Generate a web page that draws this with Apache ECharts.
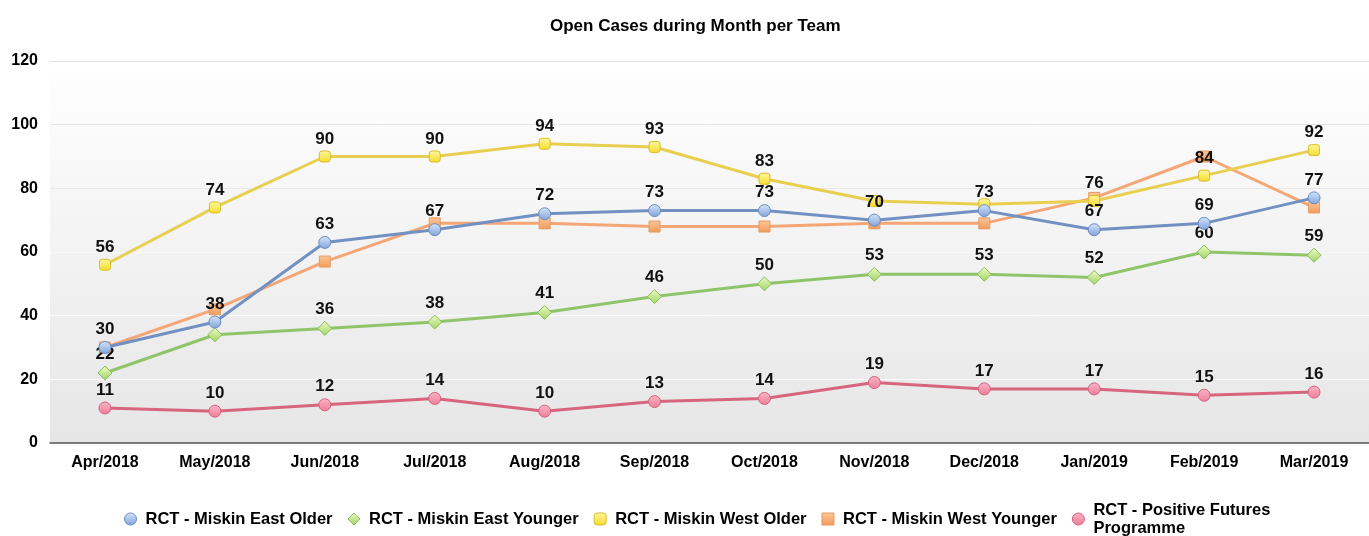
<!DOCTYPE html>
<html lang="en">
<head>
<meta charset="utf-8">
<script src="https://cdn.jsdelivr.net/npm/echarts@6/dist/echarts.min.js"></script>
<style>
  html, body { margin: 0; padding: 0; background: #fff; }
  #main { width: 1369px; height: 536px; }
</style>
</head>
<body>
<div id="main"></div>
<script type="text/javascript">
  // data
  var months = ['Apr/2018', 'May/2018', 'Jun/2018', 'Jul/2018', 'Aug/2018', 'Sep/2018',
                'Oct/2018', 'Nov/2018', 'Dec/2018', 'Jan/2019', 'Feb/2019', 'Mar/2019'];
  var eastOlder   = [30, 38, 63, 67, 72, 73, 73, 70, 73, 67, 69, 77];
  var eastYounger = [22, 34, 36, 38, 41, 46, 50, 53, 53, 52, 60, 59];
  var westOlder   = [56, 74, 90, 90, 94, 93, 83, 76, 75, 76, 84, 92];
  var westYounger = [30, 42, 57, 69, 69, 68, 68, 69, 69, 77, 90, 74];
  var positive    = [11, 10, 12, 14, 10, 13, 14, 19, 17, 17, 15, 16];
  var yTicks = [0, 20, 40, 60, 80, 100, 120];

  var FONT = '"Liberation Sans", Arial, sans-serif';

  function grad(top, bottom) {
    return new echarts.graphic.LinearGradient(0, 0, 0, 1, [
      { offset: 0, color: top }, { offset: 1, color: bottom }
    ]);
  }

  // labels the original chart left out where they collide
  function withLabels(values, hidden) {
    return values.map(function (v, i) {
      return hidden.indexOf(i) >= 0 ? { value: v, label: { show: false } } : v;
    });
  }

  var teams = [
    { name: 'RCT - Miskin East Older', values: eastOlder, hidden: [], line: '#7290c2',
      symbol: 'circle', size: 12, fill: grad('#d6e6fa', '#7fa3d8'), border: '#6a8cc0', z: 5 },
    { name: 'RCT - Miskin East Younger', values: eastYounger, hidden: [1], line: '#8fc46a',
      symbol: 'diamond', size: 14, fill: grad('#f0fbc8', '#9fd462'), border: '#86bd58', z: 4 },
    { name: 'RCT - Miskin West Older', values: westOlder, hidden: [7, 8], line: '#e8cf50',
      symbol: 'roundRect', size: 11, fill: grad('#fff7a0', '#f5dc2a'), border: '#d9bd2c', z: 3 },
    { name: 'RCT - Miskin West Younger', values: westYounger, hidden: [0,1,2,3,4,5,6,7,8,9,10,11], line: '#f5a676',
      symbol: 'rect', size: 11, fill: grad('#fcc89a', '#f19a5a'), border: '#e69a64', z: 2 },
    { name: 'RCT - Positive Futures Programme', values: positive, hidden: [], line: '#d7657e',
      symbol: 'circle', size: 12, fill: grad('#fbb6c8', '#ec7d99'), border: '#d9607e', z: 1 }
  ];

  var series = teams.map(function (t) {
    return {
      name: t.name,
      type: 'line',
      z: t.z,
      data: withLabels(t.values, t.hidden),
      symbol: t.symbol,
      symbolSize: t.size,
      showAllSymbol: true,
      lineStyle: { color: t.line, width: 3 },
      itemStyle: { color: t.fill, borderColor: t.border, borderWidth: 1 },
      label: {
        show: true,
        position: 'top',
        distance: 3,
        color: '#111',
        fontFamily: FONT,
        fontWeight: 'bold',
        fontSize: 17
      },
      emphasis: { disabled: true },
      animation: false
    };
  });

  var option = {
    animation: false,
    title: {
      text: 'Open Cases during Month per Team',
      left: 545,
      top: 13,
      textStyle: { fontFamily: FONT, fontSize: 17, fontWeight: 'bold', color: '#000' }
    },
    grid: {
      left: 50,
      top: 61,
      bottom: 93,
      width: 1327,
      show: true,
      borderWidth: 0,
      backgroundColor: grad('#ffffff', '#e6e6e6')
    },
    legend: {
      top: 496,
      left: 119,
      itemWidth: 12,
      itemHeight: 12,
      itemGap: 15,
      textStyle: { fontFamily: FONT, fontSize: 16.5, fontWeight: 'bold', color: '#000', lineHeight: 18, padding: [0, 0, 0, 4] },
      formatter: function (name) {
        return name === 'RCT - Positive Futures Programme' ? 'RCT - Positive Futures\nProgramme' : name;
      },
      data: teams.map(function (t) {
        return { name: t.name, icon: t.symbol, itemStyle: { color: t.fill, borderColor: t.border, borderWidth: 1 } };
      })
    },
    xAxis: {
      type: 'category',
      data: months,
      boundaryGap: true,
      axisLine: { lineStyle: { color: '#555', width: 1.5 } },
      axisTick: { alignWithLabel: true, length: 6, lineStyle: { color: '#555' } },
      axisLabel: { margin: 12, color: '#000', fontFamily: FONT, fontSize: 16, fontWeight: 'bold' }
    },
    yAxis: {
      type: 'value',
      min: yTicks[0],
      max: yTicks[yTicks.length - 1],
      interval: 20,
      axisLine: { show: false },
      axisTick: { show: false },
      axisLabel: { margin: 12, color: '#000', fontFamily: FONT, fontSize: 16, fontWeight: 'bold' },
      splitLine: {
        lineStyle: { color: ['#f6f6f6', '#fbfbfb', '#fbfbfb', '#f8f8f8', '#e8e8e8', '#e6e6e6', '#e2e2e2'], width: 1 }
      }
    },
    series: series
  };

  var chart = echarts.init(document.getElementById('main'));
  chart.setOption(option);
</script>
</body>
</html>
